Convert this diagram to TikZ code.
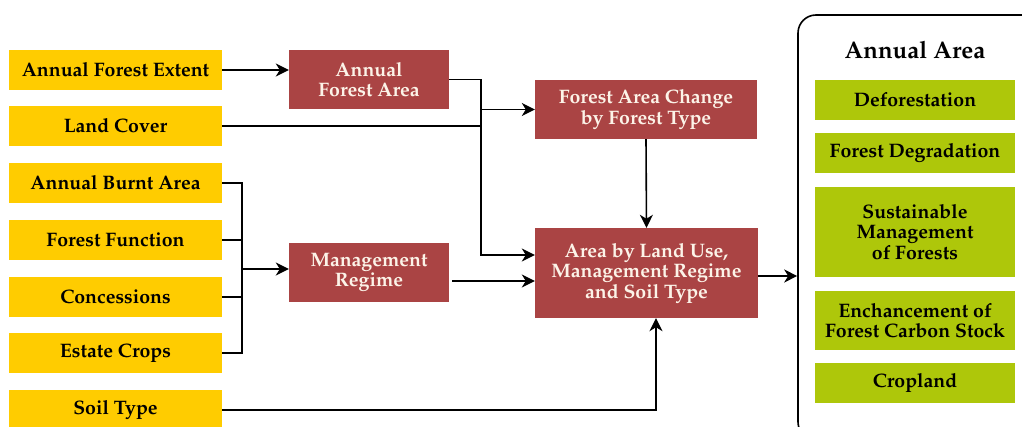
\documentclass[tikz,border=0pt]{standalone}
\usepackage[T1]{fontenc}
\renewcommand{\rmdefault}{ppl}
\usetikzlibrary{arrows.meta,calc}
\definecolor{yel}{RGB}{255,204,0}
\definecolor{redb}{RGB}{170,68,68}
\definecolor{grn}{RGB}{174,199,10}
\definecolor{cream}{RGB}{252,243,232}
\tikzset{
  box/.style={inner sep=2pt, align=center, font=\fontsize{19.5}{20.5}\selectfont\bfseries},
  yelbox/.style={box, fill=yel, text=black, minimum width=213pt, minimum height=40pt},
  redbox/.style={box, fill=redb, text=cream},
  grnbox/.style={box, fill=grn, text=black, minimum width=200pt},
  conn/.style={line width=1.6pt, draw=black},
  arr/.style={conn, -{Stealth[length=13pt,width=13pt,inset=4pt]}},
}
\begin{document}
\begin{tikzpicture}[x=1pt,y=-1pt]
\useasboundingbox (0,0) rectangle (1022,427);
\fill[white] (0,0) rectangle (1022,427);
\clip (0,0) rectangle (1022,427);
% left inputs
\node[yelbox] (afe) at (115.5,70) {Annual Forest Extent};
\node[yelbox] (lc) at (115.5,126) {Land Cover};
\node[yelbox] (abu) at (115.5,183) {Annual Burnt Area};
\node[yelbox] (ff) at (115.5,240) {Forest Function};
\node[yelbox] (con) at (115.5,297) {Concessions};
\node[yelbox] (ec) at (115.5,353) {Estate Crops};
\node[yelbox] (st) at (115.5,410) {Soil Type};
% red process boxes
\node[redbox, minimum width=160pt, minimum height=59pt] (afa) at (369,79.5) {Annual\\Forest Area};
\node[redbox, minimum width=222pt, minimum height=59pt] (fac) at (646,109.5) {Forest Area Change\\by Forest Type};
\node[redbox, minimum width=160pt, minimum height=59pt] (mr) at (369,272.5) {Management\\Regime};
\node[redbox, minimum width=223pt, minimum height=90pt] (alu) at (646.5,273) {Area by Land Use,\\Management Regime\\and Soil Type};
% right panel
\node[draw=black, line width=1.6pt, rounded corners=18pt, minimum width=242pt, minimum height=425pt] (panel) at (919,227.5) {};
\node[box, font=\fontsize{24}{26}\selectfont\bfseries] (title) at (915,50) {Annual Area};
\node[grnbox, minimum height=40pt] (def) at (915,100) {Deforestation};
\node[grnbox, minimum height=40pt] (fd) at (915,153) {Forest Degradation};
\node[grnbox, minimum height=90pt] (smf) at (915,232) {Sustainable\\Management\\of Forests};
\node[grnbox, minimum height=59pt] (ecs) at (915,320.5) {Enchancement of\\Forest Carbon Stock};
\node[grnbox, minimum height=40pt] (crop) at (915,383) {Cropland};
% junctions
\coordinate (jb) at (481,255);
\coordinate (bx) at (242,269);
% connectors
\draw[arr] (afe.east) -- (afe.east -| afa.west);
\draw[arr] (afa.east) -| (jb) -- (jb -| alu.west);
\draw[arr] (fac.west -| jb) -- (fac.west);
\draw[conn] (lc.east) -- (lc.east -| jb);
\draw[arr] (fac.south) -- (alu.north);
\draw[conn] (abu.east) -| (bx |- ec.east) -- (ec.east);
\draw[conn] (ff.east) -- (ff.east -| bx);
\draw[conn] (con.east) -- (con.east -| bx);
\draw[arr] (bx) -- (bx -| mr.west);
\draw[arr] ([xshift=3pt,yshift=-8.5pt]mr.east) -- ([yshift=-8.5pt]mr.east -| alu.west);
\draw[arr] (st.east) -| ([xshift=9.5pt]alu.south);
\draw[arr] ([yshift=-3pt]alu.east) -- ([yshift=-3pt]alu.east -| panel.west);
\end{tikzpicture}
\end{document}
